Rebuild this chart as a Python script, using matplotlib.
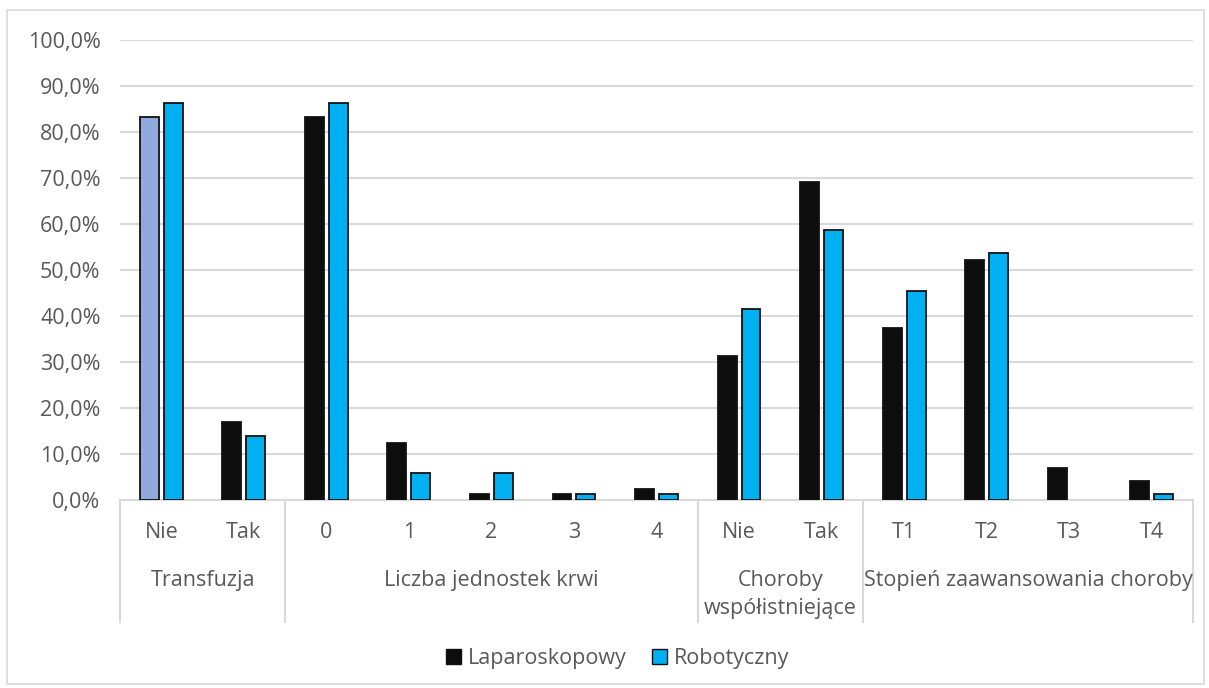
import numpy as np
import matplotlib
matplotlib.use('Agg')
import matplotlib.pyplot as plt
from matplotlib.patches import Patch, Rectangle
from matplotlib.lines import Line2D

# data (percent)
categories = ['Nie', 'Tak', '0', '1', '2', '3', '4', 'Nie', 'Tak', 'T1', 'T2', 'T3', 'T4']
groups = ['Transfuzja', 'Liczba jednostek krwi', 'Choroby\nwspółistniejące', 'Stopień zaawansowania choroby']
group_sizes = [2, 5, 2, 4]
laparoskopowy = [83.3, 16.9, 83.3, 12.5, 1.3, 1.3, 2.5, 31.3, 69.1, 37.5, 52.2, 6.9, 4.2]
robotyczny = [86.2, 14.0, 86.2, 5.9, 5.9, 1.2, 1.2, 41.5, 58.7, 45.4, 53.6, 0.0, 1.4]

plt.rcParams['font.family'] = ['Open Sans', 'DejaVu Sans']
grey = '#595959'
fs = 15.5

fig = plt.figure(figsize=(12.09, 6.88), dpi=100)
ax = fig.add_axes([120/1209, 188/688, 1073/1209, 460/688])

x = np.arange(len(categories))
w = 0.23
lap_colors = ['#8faadc'] + ['#0d0d0d'] * (len(categories) - 1)
ax.bar(x - 0.145, laparoskopowy, w, color=lap_colors, edgecolor='#111111',
       linewidth=[1.3 if v > 0 else 0 for v in laparoskopowy], zorder=3)
ax.bar(x + 0.145, robotyczny, w, color='#00b0f0', edgecolor='#111111',
       linewidth=[1.3 if v > 0 else 0 for v in robotyczny], zorder=3)

ax.set_xlim(-0.5, len(categories) - 0.5)
ax.set_ylim(0, 100)
ax.set_yticks(np.arange(0, 101, 10))
ax.set_yticklabels([('%.1f%%' % v).replace('.', ',') for v in np.arange(0, 101, 10)],
                   fontsize=fs, color=grey)
ax.yaxis.grid(True, color='#d9d9d9', linewidth=1.5, zorder=0)
ax.tick_params(axis='y', length=0, pad=14)
ax.tick_params(axis='x', length=0, pad=16)
ax.set_xticks(x)
ax.set_xticklabels(categories, fontsize=fs, color=grey)
for s in ['left', 'right', 'top']:
    ax.spines[s].set_visible(False)
ax.spines['bottom'].set_color('#d9d9d9')
ax.spines['bottom'].set_linewidth(1.5)

# group labels and separators under the axis
trans = ax.get_xaxis_transform()
start = 0
bounds = [-0.5]
for g, n in zip(groups, group_sizes):
    mid = start + (n - 1) / 2
    ax.text(mid, -0.152, g, transform=trans, ha='center', va='top', fontsize=fs, color=grey,
            linespacing=1.45)
    start += n
    bounds.append(start - 0.5)
for b in bounds:
    ax.add_line(Line2D([b, b], [0, -0.265], transform=trans, color='#d9d9d9', linewidth=1.5,
                       clip_on=False))

handles = [Patch(facecolor='#0d0d0d', edgecolor='#111111', label='Laparoskopowy'),
           Patch(facecolor='#00b0f0', edgecolor='#111111', label='Robotyczny')]
fig.legend(handles=handles, loc='center', bbox_to_anchor=(0.511, 0.043), ncol=2, frameon=False,
           fontsize=fs, handlelength=0.7, handleheight=0.7, handletextpad=0.3, columnspacing=1.2,
           labelcolor=grey)

fig.patches.append(Rectangle((0.006, 0.006), 0.99, 0.98, transform=fig.transFigure,
                             fill=False, edgecolor='#d9d9d9', linewidth=1.2))

fig.savefig('out.png', dpi=100)
